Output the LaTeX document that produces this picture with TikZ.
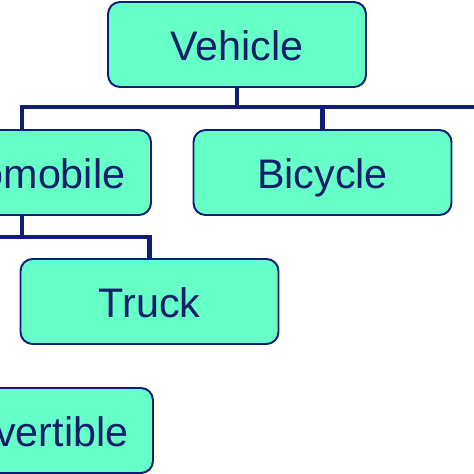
\documentclass[tikz,border=0pt]{standalone}
\usepackage{fontspec}
\setmainfont{Liberation Sans}
\usepackage{xcolor}
\usetikzlibrary{positioning}

\definecolor{boxfill}{RGB}{102,255,200}
\definecolor{navy}{RGB}{16,28,120}
\definecolor{textnavy}{RGB}{20,30,105}

\begin{document}
\begin{tikzpicture}[
  x=0.02cm, y=-0.02cm,
  class/.style={rectangle, rounded corners=0.24cm, draw=navy, line width=1.1pt, fill=boxfill,
    minimum width=5.16cm, minimum height=1.7cm, text=textnavy, text height=0.64cm, text depth=0pt,
    inner ysep=0pt, font=\fontsize{23.5}{28}\selectfont},
  link/.style={draw=navy, line width=2.3pt}
]
\path[use as bounding box, clip] (0,0) rectangle (474,474);
\fill[white] (0,0) rectangle (474,474);

% Classes
\node[class] (veh) at (237,44.5) {Vehicle};
\node[class] (auto) at (22,172.5) {Automobile};
\node[class] (bic) at (322.5,172.5) {Bicycle};
\node[class] (truck) at (149.5,301.5) {Truck};
\node[class] (conv) at (24,430.5) {Convertible};

% Ends of the bars outside the frame
\coordinate (far) at (520,107);
\coordinate (aleft) at (-60,237);

% Vehicle subclasses
\draw[link] (veh.south) -- (veh.south |- far);
\draw[link] (auto.north) |- (far);
\draw[link] (bic.north) -- (bic.north |- far);

% Automobile subclasses
\draw[link] (auto.south) -- (auto.south |- aleft);
\draw[link] (aleft) -| (truck.north);

\end{tikzpicture}
\end{document}
